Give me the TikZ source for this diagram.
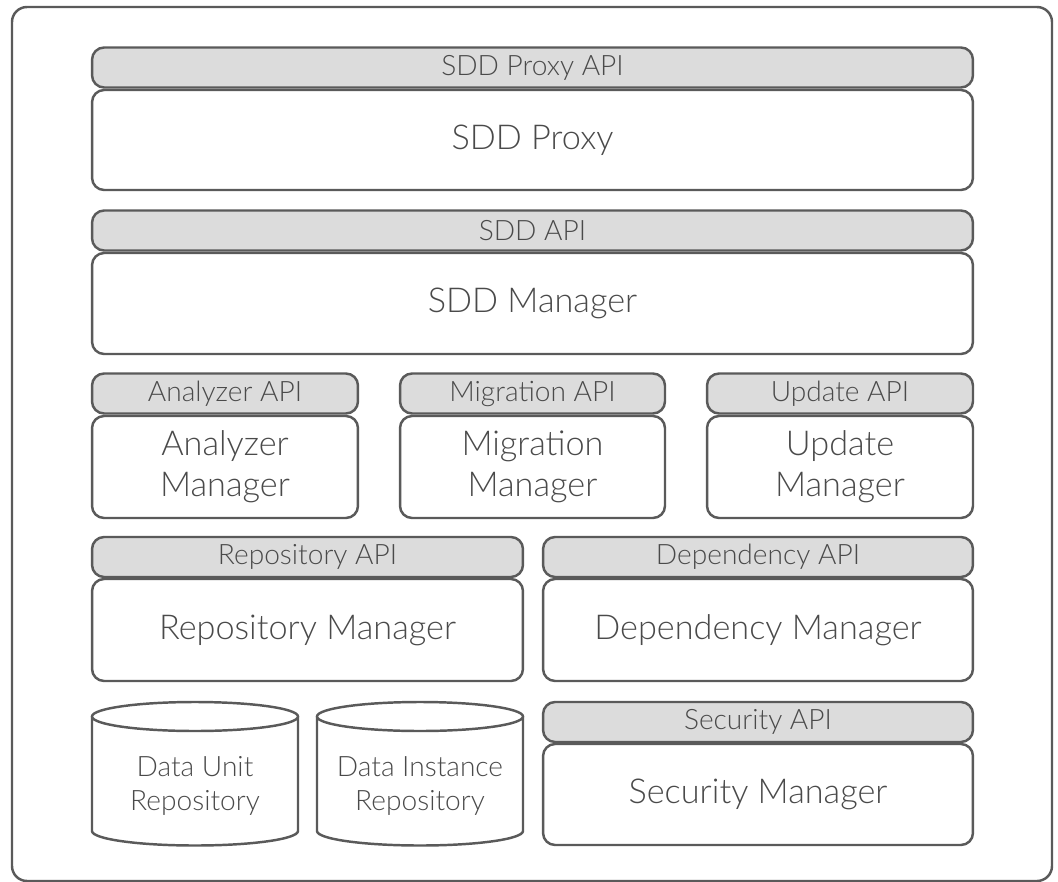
\documentclass[tikz,border=0pt]{standalone}
\usepackage{fontspec}
\setmainfont{Lato Light}
\definecolor{edge}{HTML}{5A5A5A}
\definecolor{ink}{HTML}{4A4A4A}
\definecolor{apifill}{HTML}{DCDCDC}
\tikzset{
  api/.style={draw=edge, fill=apifill, line width=1.4pt, rounded corners=0.24cm,
    inner sep=0pt, minimum height=0.8cm, text=ink, font=\fontsize{16}{17}\selectfont},
  mgr/.style={draw=edge, fill=white, line width=1.4pt, rounded corners=0.24cm,
    inner sep=0pt, text=ink, align=center, font=\fontsize{19.5}{23.5}\selectfont},
  repo/.style={draw=edge, line width=1.4pt},
  repotext/.style={text=ink, align=center, inner sep=0pt, font=\fontsize{16}{19.5}\selectfont}
}
\begin{document}
\begin{tikzpicture}[x=0.02cm, y=-0.02cm]
  \useasboundingbox (0,0) rectangle (1058,882);

  % outer frame
  \draw[edge, line width=1.4pt, rounded corners=0.3cm] (12,7) rectangle (1052,881);

  % proxy layer
  \node[api, minimum width=17.62cm] (proxyapi) at (532.5,67.5) {SDD Proxy API};
  \node[mgr, minimum width=17.62cm, minimum height=2.0cm] (proxy) at (532.5,140) {SDD Proxy};

  % sdd layer
  \node[api, minimum width=17.62cm] (sddapi) at (532.5,230.5) {SDD API};
  \node[mgr, minimum width=17.62cm, minimum height=2.02cm] (sdd) at (532.5,303.5) {SDD Manager};

  % three managers
  \node[api, minimum width=5.32cm] (anaapi) at (225,393.5) {Analyzer API};
  \node[mgr, minimum width=5.32cm, minimum height=2.04cm] (ana) at (225,467) {Analyzer\\Manager};
  \node[api, minimum width=5.3cm] (migapi) at (532.5,393.5) {Migration API};
  \node[mgr, minimum width=5.3cm, minimum height=2.04cm] (mig) at (532.5,467) {Migration\\Manager};
  \node[api, minimum width=5.32cm] (updapi) at (840,393.5) {Update API};
  \node[mgr, minimum width=5.32cm, minimum height=2.04cm] (upd) at (840,467) {Update\\Manager};

  % two managers
  \node[api, minimum width=8.62cm] (repapi) at (307.5,557) {Repository API};
  \node[mgr, minimum width=8.62cm, minimum height=2.04cm] (rep) at (307.5,630) {Repository Manager};
  \node[api, minimum width=8.6cm] (depapi) at (758,557) {Dependency API};
  \node[mgr, minimum width=8.6cm, minimum height=2.04cm] (dep) at (758,630) {Dependency Manager};

  % security
  \node[api, minimum width=8.6cm] (secapi) at (758,722) {Security API};
  \node[mgr, minimum width=8.6cm, minimum height=2.02cm] (sec) at (758,794.5) {Security Manager};

  % repositories (cylinders)
  \foreach \cx/\nm/\txt in {195/unitrepo/{Data Unit\\Repository}, 420/instrepo/{Data Instance\\Repository}}
  {
    \draw[repo] (\cx-103,716.5) -- (\cx-103,831) arc[start angle=180, end angle=360, x radius=103, y radius=-14.5]
      -- (\cx+103,716.5);
    \draw[repo] (\cx,716.5) ellipse[x radius=103, y radius=14.5];
    \node[repotext] (\nm) at (\cx,786) {\txt};
  }
\end{tikzpicture}
\end{document}
